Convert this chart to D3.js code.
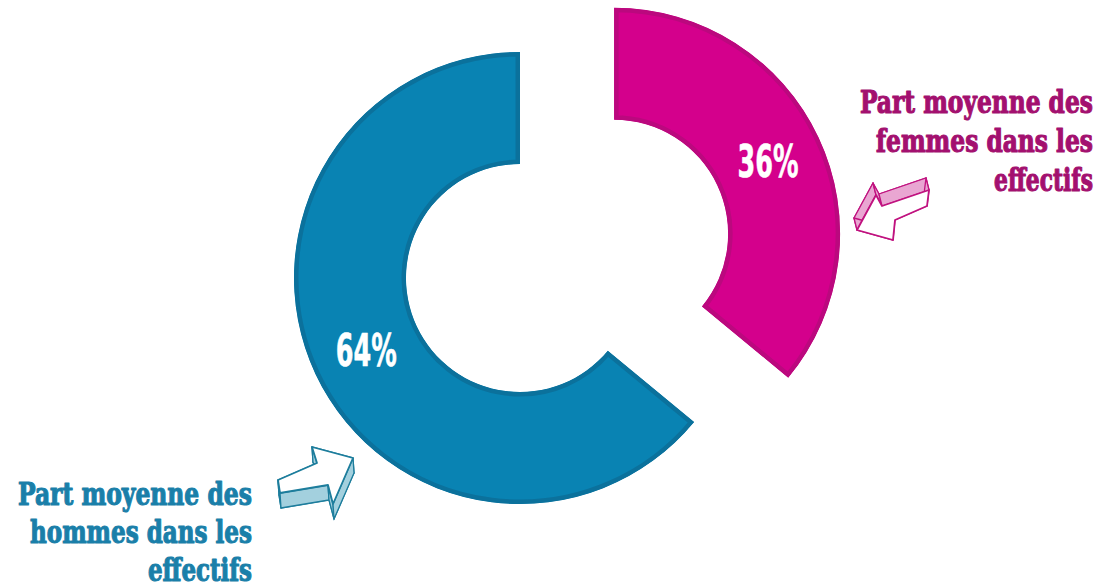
<!DOCTYPE html>
<html><head><meta charset="utf-8">
<script src="https://cdn.jsdelivr.net/npm/d3@7"></script>
<style>html,body{margin:0;padding:0;background:#fff;}svg{display:block;}</style>
</head><body>
<svg id="c" width="1112" height="588"></svg>
<script>
const categories = ["Femmes", "Hommes"];
const values = [36, 64];
const pctLabels = ["36%", "64%"];
const annotations = [
  ["Part moyenne des", "femmes dans les", "effectifs"],
  ["Part moyenne des", "hommes dans les", "effectifs"]
];

const fills = ["#d4008c", "#0983b3"];
const borders = ["#bb087e", "#0b719c"];
const textColors = ["#a3106f", "#1a7fa9"];
const explode = [104, 0];

const svg = d3.select("#c");
const cx = 520, cy = 278, R = 226, r = 114;

const pie = d3.pie().sort(null).value(d => d)(values);
const arc = d3.arc().innerRadius(r).outerRadius(R);
const defs = svg.append("defs");

function fitText(parent, str, x, y, size, family, target, anchor, color, sw) {
  const g = parent.append("g");
  const t = g.append("text").attr("x", 0).attr("y", 0)
    .attr("font-family", family).attr("font-weight", "bold").attr("font-size", size)
    .attr("fill", color).text(str);
  if (sw) t.attr("stroke", color).attr("stroke-width", sw).attr("stroke-linejoin", "round");
  const w = t.node().getComputedTextLength();
  const k = target / w;
  const x0 = anchor === "end" ? x - target : anchor === "middle" ? x - target / 2 : x;
  g.attr("transform", `translate(${x0},${y}) scale(${k},1)`);
}

pie.forEach((p, i) => {
  const mid = (p.startAngle + p.endAngle) / 2;
  const dx = explode[i] * Math.sin(mid), dy = -explode[i] * Math.cos(mid);
  const id = "clip" + i;
  defs.append("clipPath").attr("id", id).append("path").attr("d", arc(p))
    .attr("transform", `translate(${cx + dx},${cy + dy})`);
  svg.append("g").attr("clip-path", `url(#${id})`)
    .append("path").attr("d", arc(p))
    .attr("transform", `translate(${cx + dx},${cy + dy})`)
    .attr("fill", fills[i]).attr("stroke", borders[i]).attr("stroke-width", 9);
  const c = arc.centroid(p);
  fitText(svg, pctLabels[i], cx + dx + c[0], cy + dy + c[1] + 16, 44,
    "'Liberation Sans Narrow','DejaVu Sans Condensed',sans-serif", 61, "middle", "#fff", 0.6);
});

const annPos = [{x: 1093, y: [113, 152, 191]}, {x: 252, y: [505, 543, 581]}];
const annWidths = [[233, 217, 99], [234, 222, 104]];
annotations.forEach((lines, i) => {
  lines.forEach((t, j) => {
    fitText(svg, t, annPos[i].x, annPos[i].y[j], 31,
      "'DejaVu Serif Condensed','DejaVu Serif',serif", annWidths[i][j], "end", textColors[i], 1.1);
  });
});

function drawArrow(pts, depth, col, light) {
  const line = d3.line().curve(d3.curveLinearClosed);
  const back = pts.map(([x, y]) => [x + depth[0], y + depth[1]]);
  const g = svg.append("g");
  g.append("path").attr("d", line(back)).attr("fill", light).attr("stroke", col).attr("stroke-width", 1.2);
  for (let k = 0; k < pts.length; k++) {
    const k2 = (k + 1) % pts.length;
    g.append("path").attr("d", line([pts[k], pts[k2], back[k2], back[k]]))
      .attr("fill", light).attr("stroke", col).attr("stroke-width", 1.3).attr("stroke-linejoin", "round");
  }
  g.append("path").attr("d", line(pts)).attr("fill", "#fff").attr("stroke", col).attr("stroke-width", 1.8).attr("stroke-linejoin", "round");
}
drawArrow([[857,230],[876,195],[882,206],[929,190],[927,206],[895,220],[893,240]], [-3,-12], "#c0127f", "#e9a6d2");
drawArrow([[353,458],[312,447],[317,463],[278,480],[280,493],[328,485],[333,504]], [1,15], "#1d7d9c", "#a3d0de");
</script>
</body></html>
